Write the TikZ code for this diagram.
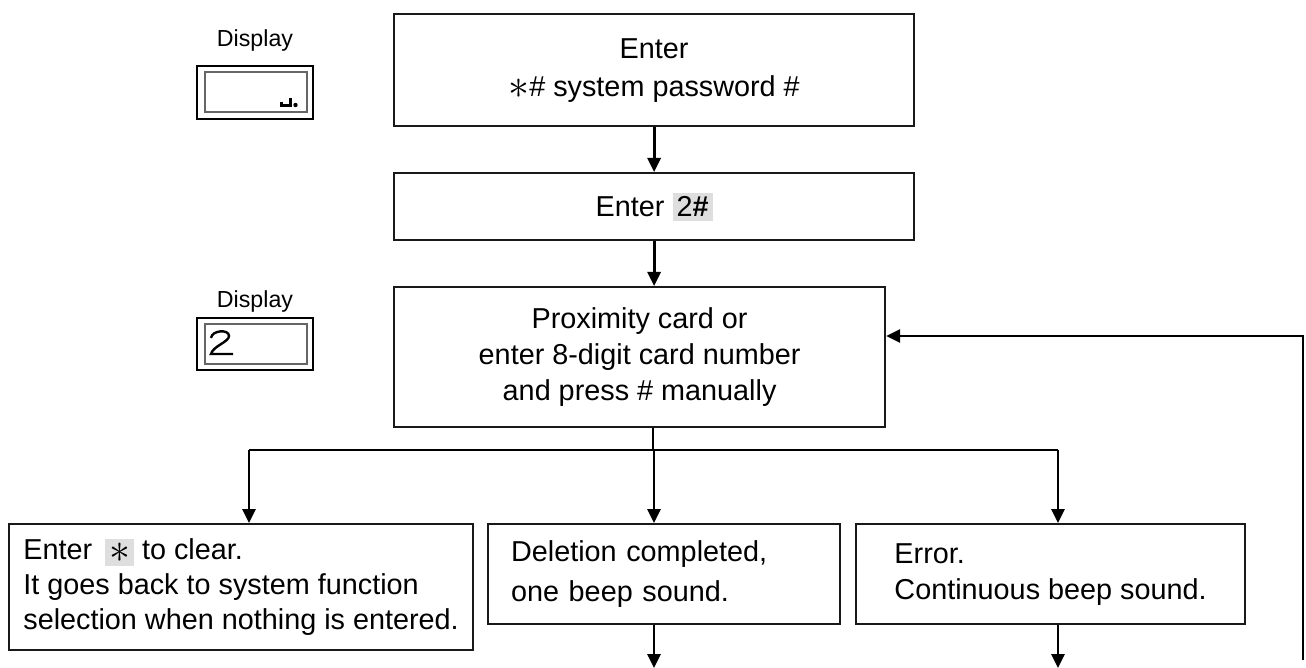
\documentclass[tikz,border=0pt]{standalone}
\usepackage{fontspec}
\setmainfont{Liberation Sans}
\usetikzlibrary{arrows.meta}
\newcommand{\hlkey}[1]{{\setlength{\fboxsep}{2pt}\colorbox{black!13}{#1}}}
\newcommand{\bigast}{\raisebox{-0.1em}{\scalebox{1.45}{$\ast$}}}

\begin{document}
\begin{tikzpicture}[x=0.5pt,y=0.5pt]
\tikzset{
  box/.style={draw=black!90, line width=1.1pt, inner sep=0pt},
  txt/.style={font=\fontsize{14.4}{18}\selectfont},
  arr/.style={line width=1.4pt, -{Triangle[length=7pt,width=6.5pt]}},
  lne/.style={line width=1.4pt},
  lbl/.style={font=\fontsize{11.6}{14}\selectfont, inner sep=0pt}
}
\useasboundingbox (0,0) rectangle (1306,-668);

\node[lbl] (lab1) at (255,-41) {Display};
\draw [line width=1.2pt] (197,-66) rectangle (313,-119);
\draw [black!60, line width=0.6pt] (205,-72) rectangle (307,-112);
\draw [line width=1.5pt] (281,-102) -- (281,-106) -- (290,-106) -- (290,-98);
\fill (295.5,-105) circle (2.2);

\node[lbl] (lab2) at (255,-302) {Display};
\draw [line width=1.2pt] (197,-318) rectangle (313,-370);
\draw [black!60, line width=0.6pt] (205,-324) rectangle (307,-364);
\draw [line width=1.2pt] (211,-338) .. controls (212,-330) and (229,-329) .. (229,-336)
  .. controls (229,-342) and (213,-346) .. (211,-354) -- (233,-354);

\node[box, txt, anchor=north west, minimum width=260pt, minimum height=56pt, align=center,
  font=\fontsize{14.4}{19}\selectfont] (pwd) at (393,-13)
  {Enter\\\bigast\# system password \#};
\node[box, txt, anchor=north west, minimum width=260pt, minimum height=33.5pt] (sel) at (393,-172)
  {Enter \hlkey{2\textbf{\#}}};
\node[box, txt, anchor=north west, minimum width=245.5pt, minimum height=70pt, align=center] (prox) at (393,-286)
  {Proximity card or\\enter 8-digit card number\\and press \# manually};

\node[box, txt, anchor=north west, minimum width=232pt, minimum height=63pt, align=left,
  font=\fontsize{14.4}{17.5}\selectfont] (clr) at (8,-523)
  {Enter\hspace{0.45em}\hlkey{\bigast} to clear.\\It goes back to system function\\selection when nothing is entered.};
\node[box, txt, anchor=north west, minimum width=176pt, minimum height=50pt, align=left,
  text width=153pt, inner xsep=11.5pt, font=\fontsize{14.4}{20}\selectfont] (done) at (487,-523)
  {Deletion completed,\\one beep sound.};
\node[box, txt, anchor=north west, minimum width=194.5pt, minimum height=50pt, align=left] (err) at (855,-523)
  {Error.\\Continuous beep sound.};

\coordinate (jc) at (653,-450);
\coordinate (jl) at (249,-450);
\coordinate (jm) at (654,-450);
\coordinate (jr) at (1058,-450);
\coordinate (ok) at (654,-668);
\coordinate (ng) at (1058,-668);
\coordinate (fb) at (1303,-660);
\coordinate (fbt) at (1303,-336);

\draw [arr] (pwd.south) -- (sel.north);
\draw [arr] (sel.south) -- (sel.south |- prox.north);
\draw [lne] (jc |- prox.south) -- (jc);
\draw [lne] (jl) -- (jr);
\draw [arr] (jl) -- (jl |- clr.north);
\draw [arr] (jm) -- (jm |- done.north);
\draw [arr] (jr) -- (jr |- err.north);
\draw [arr] (ok |- done.south) -- (ok);
\draw [arr] (ng |- err.south) -- (ng);
\draw [arr] (fb) -- (fbt) -- (prox.east |- fbt);
\end{tikzpicture}
\end{document}
